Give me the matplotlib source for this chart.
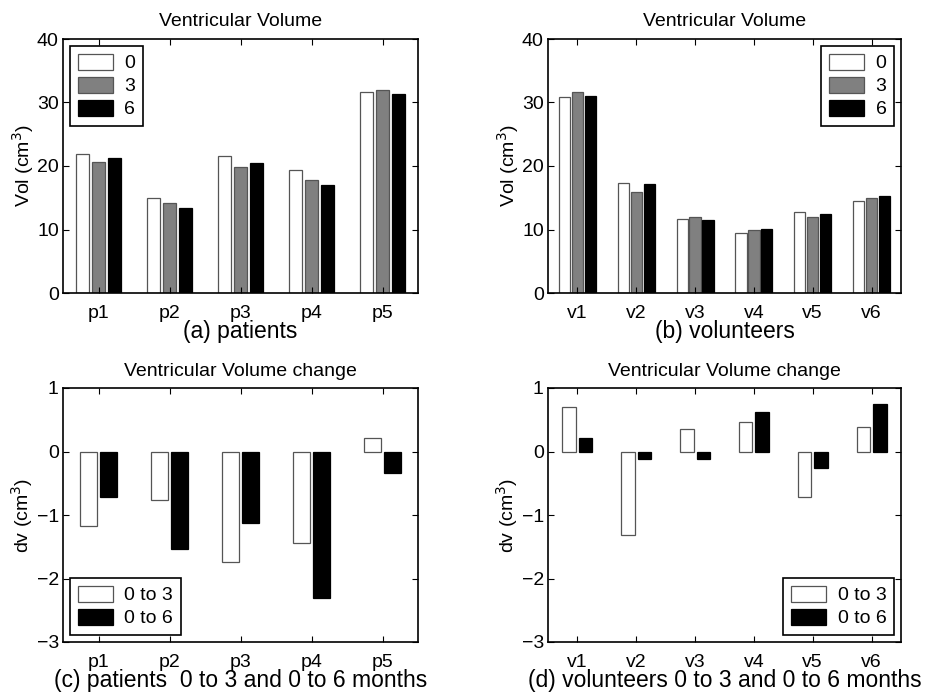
import numpy as np
import matplotlib.pyplot as plt

plt.rcParams['font.family'] = ['Liberation Sans', 'DejaVu Sans']

patients = ['p1', 'p2', 'p3', 'p4', 'p5']
volunteers = ['v1', 'v2', 'v3', 'v4', 'v5', 'v6']
months = ['0', '3', '6']

# ventricular volume (cm^3) at 0, 3 and 6 months
vol_p0 = [21.9, 14.9, 21.6, 19.3, 31.7]
vol_p3 = [20.7, 14.2, 19.8, 17.8, 31.9]
vol_p6 = [21.2, 13.4, 20.4, 17.0, 31.3]

vol_v0 = [30.9, 17.3, 11.6, 9.4, 12.8, 14.5]
vol_v3 = [31.6, 15.9, 12.0, 9.9, 12.0, 14.9]
vol_v6 = [31.1, 17.2, 11.5, 10.1, 12.5, 15.3]

# volume change (cm^3)
dv_p03 = [-1.18, -0.77, -1.74, -1.44, 0.21]
dv_p06 = [-0.71, -1.54, -1.12, -2.31, -0.34]

dv_v03 = [0.70, -1.32, 0.36, 0.47, -0.72, 0.39]
dv_v06 = [0.22, -0.12, -0.12, 0.62, -0.26, 0.75]

W, H = 926, 695
fig = plt.figure(figsize=(W / 100, H / 100), dpi=100)

FS = 14


def make_ax(x0, y0, x1, y1):
    return fig.add_axes([x0 / W, 1 - y1 / H, (x1 - x0) / W, (y1 - y0) / H])


def style(ax, n, title, xlab, ylab, ylim, yticks, labels):
    ax.set_xlim(0.5, n + 0.5)
    ax.set_ylim(*ylim)
    ax.set_yticks(yticks)
    ax.set_yticklabels([str(t).replace('-', '\u2212') for t in yticks])
    ax.set_xticks(np.arange(1, n + 1))
    ax.set_xticklabels(labels)
    ax.tick_params(direction='in', top=True, right=True, length=4,
                   width=0.8, labelsize=FS)
    ax.tick_params(axis='x', pad=8.5)
    ax.tick_params(axis='y', pad=3)
    for s in ax.spines.values():
        s.set_linewidth(1.2)
    ax.set_title(title, fontsize=14, pad=9)
    ax.set_xlabel(xlab, fontsize=16.5, labelpad=-1)
    ax.set_ylabel(ylab, fontsize=14, labelpad=1)


def legend(ax, loc):
    leg = ax.legend(loc=loc, fontsize=FS, fancybox=False, edgecolor='black',
                    framealpha=1, handlelength=1.8, handleheight=0.9,
                    labelspacing=0.22, borderaxespad=0.35, borderpad=0.4,
                    handletextpad=0.6)
    leg.get_frame().set_linewidth(1.2)


ec = '#555555'

ax = make_ax(63, 39, 418, 293)
x = np.arange(1, 6)
ax.bar(x - 0.22, vol_p0, 0.18, color='white', edgecolor=ec, linewidth=0.9, label=months[0])
ax.bar(x, vol_p3, 0.18, color='#808080', edgecolor=ec, linewidth=0.9, label=months[1])
ax.bar(x + 0.22, vol_p6, 0.18, color='black', edgecolor='black', linewidth=0.9, label=months[2])
style(ax, 5, 'Ventricular Volume', '(a) patients', 'Vol (cm$^3$)', (0, 40), [0, 10, 20, 30, 40], patients)
legend(ax, 'upper left')

ax = make_ax(548, 39, 901, 293)
x = np.arange(1, 7)
ax.bar(x - 0.22, vol_v0, 0.19, color='white', edgecolor=ec, linewidth=0.9, label=months[0])
ax.bar(x, vol_v3, 0.19, color='#808080', edgecolor=ec, linewidth=0.9, label=months[1])
ax.bar(x + 0.22, vol_v6, 0.19, color='black', edgecolor='black', linewidth=0.9, label=months[2])
style(ax, 6, 'Ventricular Volume', '(b) volunteers', 'Vol (cm$^3$)', (0, 40), [0, 10, 20, 30, 40], volunteers)
legend(ax, 'upper right')

ax = make_ax(63, 388, 418, 642)
x = np.arange(1, 6)
ax.bar(x - 0.14, dv_p03, 0.23, color='white', edgecolor=ec, linewidth=0.9, label='0 to 3')
ax.bar(x + 0.14, dv_p06, 0.23, color='black', edgecolor='black', linewidth=0.9, label='0 to 6')
style(ax, 5, 'Ventricular Volume change', '(c) patients  0 to 3 and 0 to 6 months',
      'dv (cm$^3$)', (-3, 1), [-3, -2, -1, 0, 1], patients)
legend(ax, 'lower left')

ax = make_ax(548, 388, 901, 642)
x = np.arange(1, 7)
ax.bar(x - 0.14, dv_v03, 0.23, color='white', edgecolor=ec, linewidth=0.9, label='0 to 3')
ax.bar(x + 0.14, dv_v06, 0.23, color='black', edgecolor='black', linewidth=0.9, label='0 to 6')
style(ax, 6, 'Ventricular Volume change', '(d) volunteers 0 to 3 and 0 to 6 months',
      'dv (cm$^3$)', (-3, 1), [-3, -2, -1, 0, 1], volunteers)
legend(ax, 'lower right')

fig.savefig('out.png', dpi=100)
